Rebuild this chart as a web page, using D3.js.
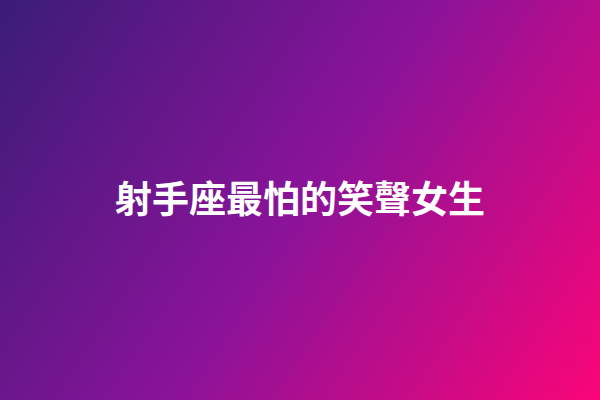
<!DOCTYPE html>
<html>
<head>
<meta charset="utf-8">
<script src="https://cdn.jsdelivr.net/npm/d3@7"></script>
<style>
  html, body { margin: 0; padding: 0; background: #000; }
  svg { display: block; }
</style>
</head>
<body>
<svg id="chart" width="600" height="400"></svg>
<script>
// Texto del título y colores del degradado
const titleText = ["射手座最怕的笑聲女生"];
const gradOffsets = [0, 0.5, 1];
const gradColors = ["#3a1d78", "#8a1399", "#fa0578"];

const svg = d3.select("#chart");
const width = +svg.attr("width");
const height = +svg.attr("height");

// Degradado diagonal de arriba-izquierda a abajo-derecha
const grad = svg.append("defs").append("linearGradient")
    .attr("id", "bg")
    .attr("gradientUnits", "userSpaceOnUse")
    .attr("x1", 0).attr("y1", 0)
    .attr("x2", width).attr("y2", height);

grad.selectAll("stop")
    .data(gradOffsets)
    .join("stop")
    .attr("offset", d => d)
    .attr("stop-color", (d, i) => gradColors[i]);

svg.append("rect")
    .attr("width", width)
    .attr("height", height)
    .attr("fill", "url(#bg)");

// Título centrado
svg.selectAll("text.title")
    .data(titleText)
    .join("text")
    .attr("class", "title")
    .attr("x", width / 2)
    .attr("y", 213)
    .attr("text-anchor", "middle")
    .attr("fill", "#fff")
    .attr("font-family", "'Noto Sans CJK TC', 'Noto Sans CJK SC', sans-serif")
    .attr("font-weight", "bold")
    .attr("font-size", "37px")
    .text(d => d);
</script>
</body>
</html>
